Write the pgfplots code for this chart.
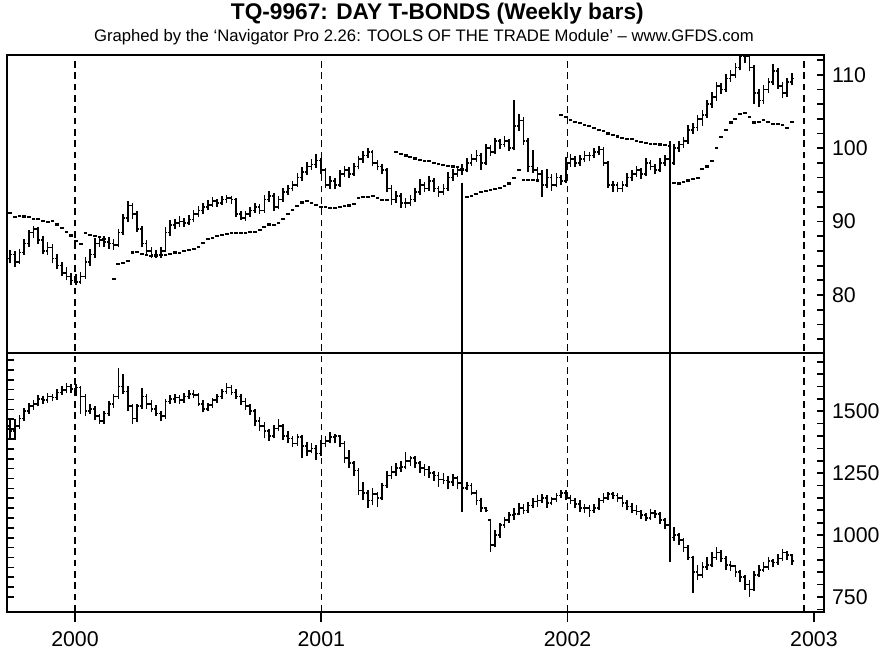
\documentclass[border=0pt]{standalone}
\usepackage{pgfplots}
\pgfplotsset{compat=1.18}
\usepackage{pgfplotstable}
\usepackage{fontspec}
\setmainfont{Liberation Sans}

\pgfplotstableread{
i o h l c
0 85.0 86.2 84.3 85.5
1 85.5 86.0 83.8 84.5
2 84.5 86.3 84.2 85.8
3 85.8 87.6 85.5 87.0
4 87.0 88.9 86.6 88.5
5 88.5 89.4 87.8 89.0
6 89.0 89.2 87.0 87.5
7 87.5 88.0 85.6 86.0
8 86.0 87.2 85.5 86.5
9 86.5 86.9 84.3 85.0
10 85.0 85.6 83.5 84.0
11 84.0 84.5 82.6 83.0
12 83.0 83.8 82.0 82.5
13 82.5 83.0 81.4 82.0
14 82.0 82.8 81.3 81.8
15 81.8 83.2 81.5 82.5
16 82.5 85.2 82.2 84.5
17 84.5 86.3 84.0 85.5
18 85.5 87.7 85.0 87.0
19 87.0 88.1 86.5 87.5
20 87.5 88.0 86.6 87.2
21 87.2 87.9 86.3 87.0
22 87.0 87.6 86.2 86.8
23 86.8 89.0 86.5 88.5
24 88.5 91.0 88.2 90.5
25 90.5 92.8 90.0 92.2
26 92.2 92.5 90.3 91.0
27 91.0 91.5 88.6 89.0
28 89.0 89.4 86.5 87.0
29 87.0 87.5 85.4 86.0
30 86.0 86.6 85.0 85.5
31 85.5 86.2 85.0 85.5
32 85.5 86.5 85.1 86.0
33 86.0 89.2 85.8 88.5
34 88.5 90.2 88.0 89.5
35 89.5 90.4 89.0 89.8
36 89.8 90.7 89.3 90.0
37 90.0 90.5 89.2 89.8
38 89.8 90.9 89.5 90.3
39 90.3 91.6 90.0 91.0
40 91.0 92.1 90.6 91.5
41 91.5 92.6 91.0 92.0
42 92.0 92.9 91.6 92.3
43 92.3 93.3 92.0 92.8
44 92.8 93.1 92.0 92.5
45 92.5 93.5 92.2 93.0
46 93.0 93.6 92.6 93.2
47 93.2 93.5 92.4 93.0
48 93.0 93.2 90.6 91.0
49 91.0 91.4 90.2 90.5
50 90.5 91.5 90.1 91.0
51 91.0 92.0 90.6 91.5
52 91.5 92.6 91.2 92.0
53 92.0 92.4 91.0 91.5
54 91.5 93.6 91.2 93.0
55 93.0 94.2 92.7 93.5
56 93.5 93.9 91.5 92.0
57 92.0 93.5 91.7 93.0
58 93.0 94.6 92.7 94.0
59 94.0 95.0 93.6 94.5
60 94.5 95.6 94.2 95.0
61 95.0 96.6 94.7 96.0
62 96.0 97.4 95.6 96.8
63 96.8 98.1 96.4 97.5
64 97.5 98.5 97.0 97.8
65 97.8 99.2 97.3 98.3
66 98.3 98.6 96.5 97.0
67 97.0 97.3 94.6 95.0
68 95.0 96.2 94.5 95.5
69 95.5 96.0 94.4 95.0
70 95.0 97.0 94.7 96.5
71 96.5 97.6 96.1 97.0
72 97.0 97.4 96.0 96.5
73 96.5 98.0 96.2 97.5
74 97.5 99.0 97.1 98.5
75 98.5 99.6 98.0 99.0
76 99.0 100.0 98.6 99.5
77 99.5 99.8 97.6 98.0
78 98.0 98.4 97.0 97.5
79 97.5 97.9 96.5 97.0
80 97.0 97.3 94.0 94.5
81 94.5 95.0 92.3 93.0
82 93.0 94.2 92.6 93.5
83 93.5 93.9 91.9 92.5
84 92.5 93.2 91.9 92.5
85 92.5 93.6 92.1 93.0
86 93.0 94.6 92.7 94.0
87 94.0 95.8 93.6 95.0
88 95.0 95.4 94.0 94.5
89 94.5 96.2 94.2 95.5
90 95.5 95.9 94.0 94.5
91 94.5 94.9 93.4 94.0
92 94.0 95.1 93.6 94.5
93 94.5 96.7 94.2 96.0
94 96.0 97.2 95.6 96.5
95 96.5 97.6 96.1 97.0
96 97.0 97.8 96.3 97.0
97 97.0 98.7 96.7 98.0
98 98.0 99.2 97.6 98.5
99 98.5 99.8 98.1 99.0
100 99.0 99.4 97.0 98.0
101 98.0 100.6 97.7 100.0
102 100.0 100.4 99.0 99.5
103 99.5 101.4 99.2 101.0
104 101.0 101.3 99.9 100.5
105 100.5 101.6 100.1 101.0
106 101.0 101.3 99.6 100.0
107 100.0 106.6 99.7 103.0
108 103.0 104.6 102.4 103.8
109 103.8 104.2 100.5 101.0
110 101.0 101.4 96.8 97.5
111 97.5 99.8 96.6 97.0
112 97.0 97.5 95.8 96.5
113 96.5 97.0 93.4 95.0
114 95.0 97.2 94.6 96.0
115 96.0 96.5 94.2 95.0
116 95.0 96.6 94.7 96.0
117 96.0 96.4 95.0 95.5
118 95.5 98.8 95.2 98.0
119 98.0 99.2 97.5 98.5
120 98.5 98.9 97.4 98.0
121 98.0 99.1 97.6 98.5
122 98.5 99.6 98.1 99.0
123 99.0 99.5 98.2 99.0
124 99.0 100.0 98.6 99.5
125 99.5 100.3 99.1 99.8
126 99.8 100.1 97.6 98.0
127 98.0 98.3 94.6 95.0
128 95.0 95.6 94.0 95.0
129 95.0 95.4 94.0 94.5
130 94.5 95.5 94.1 95.0
131 95.0 96.6 94.7 96.0
132 96.0 97.0 95.5 96.5
133 96.5 97.6 96.1 97.0
134 97.0 97.3 95.8 96.5
135 96.5 98.7 96.2 98.0
136 98.0 98.4 97.0 97.5
137 97.5 97.9 96.5 97.0
138 97.0 98.6 96.7 98.0
139 98.0 99.1 97.6 98.5
140 98.5 98.9 97.5 98.0
141 98.0 100.6 97.7 100.0
142 100.0 101.0 99.5 100.5
143 100.5 101.5 100.0 101.0
144 101.0 103.1 100.6 102.5
145 102.5 103.4 102.0 102.8
146 102.8 104.5 102.4 104.0
147 104.0 105.2 103.0 104.5
148 104.5 106.6 104.1 106.0
149 106.0 107.6 105.5 107.0
150 107.0 109.0 106.5 108.5
151 108.5 108.9 107.4 108.0
152 108.0 110.1 107.6 109.5
153 109.5 110.6 109.0 110.0
154 110.0 111.6 109.5 111.0
155 111.0 113.5 110.6 112.5
156 112.5 113.5 111.6 112.5
157 112.5 113.0 110.5 111.0
158 111.0 111.3 106.0 107.5
159 107.5 108.0 105.6 106.5
160 106.5 108.6 106.0 108.0
161 108.0 109.6 107.5 109.0
162 109.0 111.5 108.6 110.5
163 110.5 110.9 108.0 108.5
164 108.5 109.0 106.8 107.5
165 107.5 109.6 107.0 109.0
166 109.0 110.2 108.6 109.5
}\tbond

\pgfplotstableread{
i s
0 91.2
1 90.6
2 90.8
3 90.7
4 90.6
5 90.4
6 90.3
7 90.1
8 90.0
9 90.1
10 89.6
11 89.1
12 88.6
13 88.1
14 87.4
15 87.0
16 88.4
17 88.2
18 88.0
19 87.9
20 87.6
22 82.2
23 84.2
24 84.4
25 84.6
26 85.8
27 85.9
28 85.6
29 85.4
30 85.3
31 85.3
32 85.4
33 85.5
34 85.6
35 85.8
36 85.7
37 86.0
38 86.1
39 86.3
40 86.6
41 87.1
42 87.6
43 87.8
44 88.0
45 88.2
46 88.3
47 88.5
48 88.4
49 88.4
50 88.5
51 88.6
52 88.6
53 88.8
54 89.3
55 89.6
56 89.5
57 89.8
58 90.3
59 91.0
60 91.6
61 92.1
62 92.6
63 92.8
64 92.5
65 92.3
66 92.0
67 92.0
68 91.8
69 91.9
70 92.0
71 92.1
72 92.2
73 92.4
74 93.2
75 93.4
76 93.3
77 93.5
78 93.2
79 93.0
80 93.0
82 99.5
83 99.2
84 99.0
85 98.8
86 98.6
87 98.4
88 98.3
89 98.2
90 98.0
91 97.8
92 97.7
93 97.6
94 97.5
95 97.4
96 97.2
97 93.4
98 93.5
99 93.8
100 94.0
101 94.2
102 94.3
103 94.5
104 94.6
105 94.8
106 95.2
107 96.0
108 97.0
109 95.7
110 95.7
111 95.7
112 95.6
117 104.5
118 104.2
119 103.8
120 103.6
121 103.4
122 103.2
123 103.0
124 102.8
125 102.5
126 102.3
127 102.0
128 101.8
129 101.6
130 101.4
131 101.2
132 101.2
133 101.0
134 100.9
135 100.7
136 100.6
137 100.6
138 100.5
139 100.4
140 100.3
141 95.3
142 95.2
143 95.4
144 95.6
145 95.8
146 96.0
147 97.2
148 97.5
149 98.3
150 100.0
151 101.5
152 102.5
153 103.5
154 104.0
155 104.7
156 104.8
157 104.3
158 103.5
159 103.6
160 103.9
161 103.6
162 103.3
163 103.3
164 103.2
165 102.8
166 103.6
}\stopt

\pgfplotstableread{
i o h l c
0 1440 1470 1390 1420
1 1420 1470 1385 1440
2 1440 1485 1430 1470
3 1470 1515 1460 1500
4 1500 1535 1490 1520
5 1520 1545 1505 1530
6 1530 1565 1520 1550
7 1550 1560 1530 1545
8 1545 1575 1535 1560
9 1560 1570 1540 1555
10 1555 1590 1545 1575
11 1575 1600 1565 1585
12 1585 1612 1575 1600
13 1600 1610 1575 1590
14 1590 1610 1560 1595
15 1595 1600 1490 1560
16 1560 1570 1480 1500
17 1500 1530 1490 1510
18 1510 1520 1465 1480
19 1480 1490 1450 1460
20 1460 1500 1450 1490
21 1490 1540 1480 1530
22 1530 1570 1515 1560
23 1560 1673 1550 1600
24 1600 1650 1570 1580
25 1580 1600 1500 1520
26 1520 1530 1450 1470
27 1470 1530 1455 1520
28 1520 1595 1510 1560
29 1560 1570 1510 1530
30 1530 1545 1495 1510
31 1510 1525 1480 1490
32 1490 1500 1460 1480
33 1480 1550 1470 1540
34 1540 1565 1530 1550
35 1550 1570 1535 1555
36 1555 1565 1530 1545
37 1545 1575 1535 1560
38 1560 1585 1550 1570
39 1570 1585 1555 1565
40 1565 1575 1520 1530
41 1530 1545 1495 1510
42 1510 1535 1500 1525
43 1525 1555 1515 1545
44 1545 1570 1535 1560
45 1560 1590 1550 1580
46 1580 1613 1570 1595
47 1595 1605 1565 1575
48 1575 1590 1550 1560
49 1560 1570 1525 1540
50 1540 1555 1505 1520
51 1520 1530 1485 1500
52 1500 1510 1440 1460
53 1460 1475 1420 1440
54 1440 1455 1390 1420
55 1420 1430 1380 1400
56 1400 1445 1390 1430
57 1430 1470 1420 1440
58 1440 1450 1385 1400
59 1400 1420 1370 1390
60 1390 1400 1355 1370
61 1370 1410 1360 1395
62 1395 1405 1310 1360
63 1360 1375 1320 1340
64 1340 1370 1330 1350
65 1350 1365 1305 1330
66 1330 1385 1320 1370
67 1370 1400 1355 1380
68 1380 1415 1370 1395
69 1395 1410 1370 1400
70 1400 1405 1355 1370
71 1370 1380 1290 1310
72 1310 1345 1270 1290
73 1290 1300 1240 1260
74 1260 1270 1160 1180
75 1180 1215 1140 1170
76 1170 1180 1109 1140
77 1140 1190 1120 1165
78 1165 1175 1115 1150
79 1150 1210 1140 1200
80 1200 1260 1190 1240
81 1240 1280 1225 1255
82 1255 1290 1240 1270
83 1270 1300 1255 1275
84 1275 1335 1265 1300
85 1300 1320 1280 1310
86 1310 1320 1270 1290
87 1290 1300 1250 1270
88 1270 1285 1240 1265
89 1265 1280 1230 1250
90 1250 1260 1220 1240
91 1240 1255 1195 1225
92 1225 1250 1205 1220
93 1220 1240 1185 1215
94 1215 1245 1200 1230
95 1230 1240 1185 1210
96 1210 1225 1170 1190
97 1190 1215 1180 1200
98 1200 1210 1160 1170
99 1170 1180 1120 1140
100 1140 1150 1095 1110
101 1110 1115 1095 1100
102 1060 1065 931 960
103 960 1020 950 1000
104 1000 1050 990 1040
105 1040 1075 1030 1060
106 1060 1095 1050 1080
107 1080 1110 1060 1085
108 1085 1130 1080 1110
109 1110 1125 1085 1100
110 1100 1135 1090 1120
111 1120 1150 1110 1135
112 1135 1160 1115 1140
113 1140 1165 1130 1150
114 1150 1160 1110 1130
115 1130 1155 1120 1145
116 1145 1170 1135 1160
117 1160 1181 1150 1170
118 1170 1180 1140 1150
119 1150 1160 1125 1140
120 1140 1150 1110 1125
121 1125 1140 1095 1110
122 1110 1125 1090 1110
123 1110 1120 1075 1100
124 1100 1125 1090 1110
125 1110 1150 1100 1140
126 1140 1170 1130 1150
127 1150 1173 1140 1165
128 1165 1175 1145 1160
129 1160 1170 1135 1150
130 1150 1160 1115 1130
131 1130 1140 1100 1115
132 1115 1130 1090 1100
133 1100 1120 1080 1095
134 1095 1100 1065 1080
135 1080 1090 1055 1070
136 1070 1105 1060 1090
137 1090 1100 1070 1085
138 1085 1095 1045 1060
139 1060 1070 1025 1040
140 1040 1040 972 990
141 990 1032 975 1000
142 1000 1010 960 980
143 980 990 930 950
144 950 960 899 910
145 910 915 766 850
146 850 880 820 840
147 840 890 825 870
148 870 911 860 880
149 880 930 870 910
150 910 952 900 930
151 930 940 890 905
152 905 915 860 880
153 880 895 855 875
154 875 880 830 850
155 850 860 810 830
156 830 840 780 800
157 800 820 750 780
158 780 855 775 840
159 840 880 830 860
160 860 890 850 870
161 870 910 860 895
162 895 905 870 890
163 890 925 880 905
164 905 945 895 930
165 930 935 900 920
166 920 925 880 895
}\spx

\pgfplotsset{
  panel/.style={
    scale only axis, width=612.75pt,
    xmin=1999.7239, xmax=2003.041,
    axis line style={line width=1.8pt},
    xtick=\empty,
    ytick pos=right, yticklabel pos=right,
    tick align=inside,
    major tick length=5.5pt, minor tick length=5.5pt,
    tick style={black, line width=1.3pt},
    yticklabel style={font=\fontsize{16}{16}\selectfont, anchor=west, xshift=2.5pt},
  },
  barline/.style={black, line width=1.2pt},
  yrdash/.style={black, line width=0.9pt, dash pattern=on 5pt off 3.5pt},
}
\newcommand{\wk}{1999.7361+0.019123*\thisrow{i}}

\begin{document}
\begin{tikzpicture}
\useasboundingbox (0,0) rectangle (666pt,490.5pt);

% ---------- top panel: T-Bonds ----------
\begin{axis}[panel, height=223.5pt, at={(5.25pt,225.75pt)}, anchor=south west,
  ymin=72.1, ymax=112.7,
  ytick={80,90,100,110}, yticklabels={80,90,100,110},
  minor ytick={74,76,...,112}]
\addplot[yrdash] coordinates {(2000,60) (2000,120)};
\addplot[yrdash] coordinates {(2001,60) (2001,120)};
\addplot[yrdash] coordinates {(2002,60) (2002,120)};
\addplot[yrdash] coordinates {(2002.96,60) (2002.96,120)};
\addplot[barline, quiver={u=0, v=\thisrow{h}-\thisrow{l}}] table[x expr=\wk, y=l] {\tbond};
\addplot[barline, quiver={u=-0.0085, v=0}] table[x expr=\wk, y=o] {\tbond};
\addplot[barline, quiver={u=0.0085, v=0}] table[x expr=\wk, y=c] {\tbond};
\addplot[black, only marks, mark=-, mark size=1.4pt, mark options={line width=1.6pt}] table[x expr=\wk, y=s] {\stopt};
\addplot[black, line width=2.1pt] coordinates {(2001.571,95.3) (2001.571,60)};
\addplot[black, line width=2.1pt] coordinates {(2002.416,101.0) (2002.416,60)};
\end{axis}

% ---------- bottom panel: S&P ----------
\begin{axis}[panel, height=194.25pt, at={(5.25pt,31.5pt)}, anchor=south west,
  ymin=689.5, ymax=1735,
  ytick={750,1000,1250,1500}, yticklabels={750,1000,1250,1500},
  minor ytick={700,750,...,1700}]
\addplot[yrdash] coordinates {(2000,600) (2000,1800)};
\addplot[yrdash] coordinates {(2001,600) (2001,1800)};
\addplot[yrdash] coordinates {(2002,600) (2002,1800)};
\addplot[yrdash] coordinates {(2002.96,600) (2002.96,1800)};
\addplot[barline, quiver={u=0, v=\thisrow{h}-\thisrow{l}}] table[x expr=\wk, y=l] {\spx};
\addplot[barline, quiver={u=-0.0085, v=0}] table[x expr=\wk, y=o] {\spx};
\addplot[barline, quiver={u=0.0085, v=0}] table[x expr=\wk, y=c] {\spx};
\addplot[black, line width=2.1pt] coordinates {(2001.571,1800) (2001.571,1093)};
\addplot[black, line width=2.1pt] coordinates {(2002.416,1800) (2002.416,891)};
\end{axis}

% left-side unlabeled ticks of the bottom panel
\begin{axis}[scale only axis, width=612.75pt, height=194.25pt, at={(5.25pt,31.5pt)}, anchor=south west,
  xmin=0, xmax=1, ymin=0, ymax=259,
  axis y line*=left, axis x line=none,
  axis line style={line width=1.8pt},
  ytick={15,24.875,...,252.5}, yticklabels={},
  tick align=inside, major tick length=5.5pt,
  tick style={black, line width=1.3pt}]
\addplot[draw=none] coordinates {(0.5,100)};
\end{axis}

% year ticks below the bottom panel
\begin{axis}[scale only axis, width=612.75pt, height=194.25pt, at={(5.25pt,31.5pt)}, anchor=south west,
  xmin=1999.7239, xmax=2003.041, ymin=0, ymax=1,
  axis x line*=bottom, axis y line=none,
  axis line style={line width=1.8pt},
  xtick={2000,2001,2002,2003}, xticklabels={2000,2001,2002,2003},
  tick align=outside, major tick length=7.5pt,
  tick style={black, line width=1.3pt},
  xticklabel style={font=\fontsize{16}{16}\selectfont, yshift=-3.5pt}]
\addplot[draw=none] coordinates {(2001,0.5)};
\end{axis}

\node[font=\bfseries\fontsize{17}{17}\selectfont] at (328pt,480pt) {TQ-9967: DAY T-BONDS (Weekly bars)};
\node[font=\fontsize{12.5}{12.5}\selectfont] at (318pt,462.75pt) {Graphed by the ‘Navigator Pro 2.26: TOOLS OF THE TRADE Module’ -- www.GFDS.com};
\end{tikzpicture}
\end{document}
